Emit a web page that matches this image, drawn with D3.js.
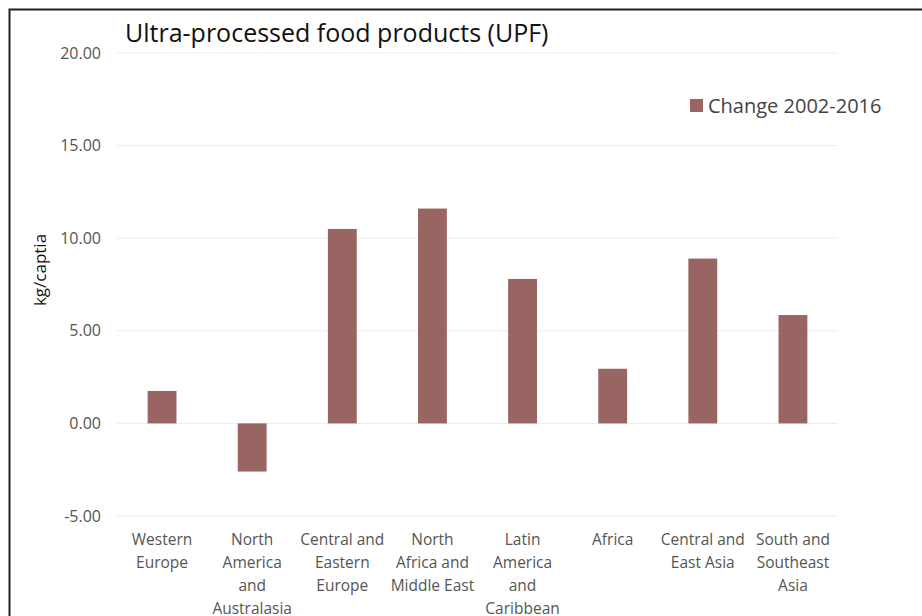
<!DOCTYPE html>
<html lang="en">
<head>
    <meta charset="UTF-8">
    <title>Ultra-processed food products (UPF)</title>
    <script src="https://d3js.org/d3.v7.min.js"></script>
    <style>
        body { margin: 0; background: #fff; }
        text { font-family: "Open Sans", "Noto Sans", sans-serif; }
    </style>
</head>
<body>
    <div id="chart"></div>

    <script>
        // Data
        var regions = [
            ["Western", "Europe"],
            ["North", "America", "and", "Australasia"],
            ["Central and", "Eastern", "Europe"],
            ["North", "Africa and", "Middle East"],
            ["Latin", "America", "and", "Caribbean"],
            ["Africa"],
            ["Central and", "East Asia"],
            ["South and", "Southeast", "Asia"]
        ];
        var change = [1.75, -2.6, 10.5, 11.6, 7.8, 2.95, 8.9, 5.85];
        var yTicks = [-5, 0, 5, 10, 15, 20];

        var W = 922, H = 616;
        var plotLeft = 117, plotRight = 838, plotTop = 53, plotBottom = 516;

        var svg = d3.select("#chart").append("svg")
            .attr("width", W)
            .attr("height", H);

        // outer frame
        svg.append("rect")
            .attr("x", 9.5).attr("y", 9.5)
            .attr("width", 940).attr("height", 640)
            .attr("fill", "none")
            .attr("stroke", "#222")
            .attr("stroke-width", 2);

        var x = d3.scaleBand()
            .domain(d3.range(regions.length))
            .range([plotLeft, plotRight])
            .paddingInner(0.68)
            .paddingOuter(0.34);

        var y = d3.scaleLinear()
            .domain([-5, 20])
            .range([plotBottom, plotTop]);

        // gridlines
        svg.append("g")
            .selectAll("line")
            .data(yTicks)
            .enter()
            .append("line")
            .attr("x1", plotLeft).attr("x2", plotRight)
            .attr("y1", function(d) { return y(d); })
            .attr("y2", function(d) { return y(d); })
            .attr("stroke", "#ececec")
            .attr("stroke-width", 1);

        // y axis labels (plain hyphen for negatives, like the original)
        var yAxis = d3.axisLeft(y)
            .tickValues(yTicks)
            .tickFormat(function(d) { return d.toFixed(2); })
            .tickSize(0)
            .tickPadding(16);
        var ya = svg.append("g")
            .attr("transform", "translate(" + plotLeft + ",0)")
            .call(yAxis);
        ya.select(".domain").remove();
        ya.selectAll("text")
            .attr("fill", "#555")
            .style("font-size", "16px")
            .style("font-family", "'Open Sans', sans-serif");

        // bars
        svg.append("g")
            .selectAll("rect")
            .data(change)
            .enter()
            .append("rect")
            .attr("x", function(d, i) { return x(i); })
            .attr("y", function(d) { return y(Math.max(0, d)); })
            .attr("width", x.bandwidth())
            .attr("height", function(d) { return Math.abs(y(d) - y(0)); })
            .attr("fill", "#996562");

        // category labels
        var cats = svg.append("g")
            .selectAll("text")
            .data(regions)
            .enter()
            .append("text")
            .attr("text-anchor", "middle")
            .attr("fill", "#555")
            .style("font-size", "15.5px")
            .attr("x", function(d, i) { return x(i) + x.bandwidth() / 2; });
        cats.selectAll("tspan")
            .data(function(d) { return d; })
            .enter()
            .append("tspan")
            .attr("x", function() { return d3.select(this.parentNode).attr("x"); })
            .attr("y", function(d, j) { return 545 + j * 23; })
            .text(function(d) { return d; });

        // title
        svg.append("text")
            .attr("x", 125).attr("y", 42)
            .attr("fill", "#111")
            .style("font-size", "25px")
            .text("Ultra-processed food products (UPF)");

        // y title
        svg.append("text")
            .attr("transform", "translate(46,270) rotate(-90)")
            .attr("text-anchor", "middle")
            .attr("fill", "#111")
            .style("font-size", "17px")
            .text("kg/captia");

        // legend
        svg.append("rect")
            .attr("x", 690).attr("y", 99)
            .attr("width", 13).attr("height", 13)
            .attr("fill", "#996562");
        svg.append("text")
            .attr("x", 708).attr("y", 113)
            .attr("fill", "#444")
            .style("font-size", "20px")
            .text("Change 2002-2016");
    </script>
</body>
</html>
